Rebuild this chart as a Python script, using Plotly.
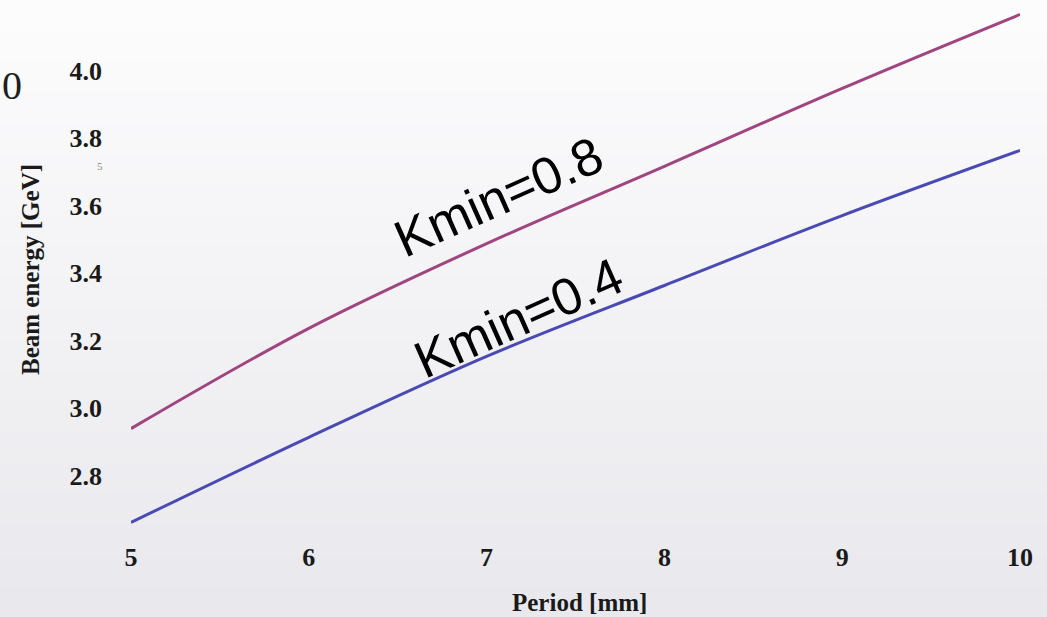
import plotly.graph_objects as go

# Data
period = [5, 6, 7, 8, 9, 10]
energy_kmin08 = [2.939, 3.236, 3.487, 3.716, 3.947, 4.166]
energy_kmin04 = [2.661, 2.913, 3.153, 3.363, 3.570, 3.763]
x_ticks = [5, 6, 7, 8, 9, 10]
x_tick_text = ["5", "6", "7", "8", "9", "10"]
y_ticks = [2.8, 3.0, 3.2, 3.4, 3.6, 3.8, 4.0]
y_tick_text = ["2.8", "3.0", "3.2", "3.4", "3.6", "3.8", "4.0"]

W, H = 1047, 617
ML, MR, MT, MB = 131, 27, 3, 74

fig = go.Figure()
fig.add_trace(go.Scatter(x=period, y=energy_kmin08, mode="lines",
                         line=dict(color="#a0457f", width=3, shape="spline"),
                         showlegend=False, hoverinfo="skip"))
fig.add_trace(go.Scatter(x=period, y=energy_kmin04, mode="lines",
                         line=dict(color="#4a4ab4", width=3, shape="spline"),
                         showlegend=False, hoverinfo="skip"))

# background gradient bands (paper coords)
shapes = []
n = 40
top = (252, 252, 253)
bot = (233, 233, 237)
for i in range(n):
    t = i / (n - 1)
    c = tuple(round(top[k] + (bot[k] - top[k]) * t) for k in range(3))
    y1 = 1 + MT / (H - MT - MB) - i * (H / (H - MT - MB)) / n
    y0 = y1 - (H / (H - MT - MB)) / n - 0.002
    shapes.append(dict(type="rect", xref="paper", yref="paper",
                       x0=-ML / (W - ML - MR), x1=1 + MR / (W - ML - MR),
                       y0=y0, y1=y1, fillcolor="rgb(%d,%d,%d)" % c,
                       line=dict(width=0), layer="below"))

tick_font = dict(family="Liberation Serif", size=26, color="#1a1a1a")
title_font = dict(family="Liberation Serif", size=25, color="#1a1a1a")

pw = W - ML - MR
ph = H - MT - MB

def px(xp):
    return (xp - ML) / pw

def py(yp):
    return 1 - (yp - MT) / ph

annotations = [
    dict(text="<b>Beam energy [GeV]</b>", xref="paper", yref="paper",
         x=px(30), y=py(270), textangle=-90, showarrow=False,
         font=title_font, xanchor="center", yanchor="middle"),
    dict(text="<b>Period [mm]</b>", xref="paper", yref="paper",
         x=px(579), y=py(602), showarrow=False,
         font=title_font, xanchor="center", yanchor="middle"),
    dict(text="Kmin=0.8", xref="paper", yref="paper",
         x=px(498), y=py(197), textangle=-24, showarrow=False,
         font=dict(family="Liberation Sans", size=52, color="#000000"),
         xanchor="center", yanchor="middle"),
    dict(text="Kmin=0.4", xref="paper", yref="paper",
         x=px(518), y=py(318), textangle=-24, showarrow=False,
         font=dict(family="Liberation Sans", size=52, color="#000000"),
         xanchor="center", yanchor="middle"),
    dict(text="0", xref="paper", yref="paper",
         x=px(0), y=py(86), showarrow=False,
         font=dict(family="Liberation Serif", size=40, color="#1e1e1e"),
         xanchor="left", yanchor="middle"),
    dict(text="5", xref="paper", yref="paper",
         x=px(100), y=py(166), showarrow=False,
         font=dict(family="Liberation Serif", size=11, color="#8a8a8a"),
         xanchor="center", yanchor="middle"),
]

fig.update_layout(
    width=W, height=H,
    margin=dict(l=ML, r=MR, t=MT, b=MB, pad=0),
    paper_bgcolor="#f4f4f6",
    plot_bgcolor="rgba(0,0,0,0)",
    shapes=shapes,
    annotations=annotations,
    xaxis=dict(range=[5, 10], tickmode="array", tickvals=x_ticks,
               ticktext=["<b>%s</b>" % t for t in x_tick_text],
               showgrid=False, zeroline=False, showline=False,
               tickfont=tick_font, ticks="", ticklabelstandoff=-4),
    yaxis=dict(range=[2.6, 4.2], tickmode="array", tickvals=y_ticks,
               ticktext=["<b>%s</b>" % t for t in y_tick_text],
               showgrid=False, zeroline=False, showline=False,
               tickfont=tick_font, ticks="", ticklabelstandoff=28),
)

fig.write_html("out.html")
